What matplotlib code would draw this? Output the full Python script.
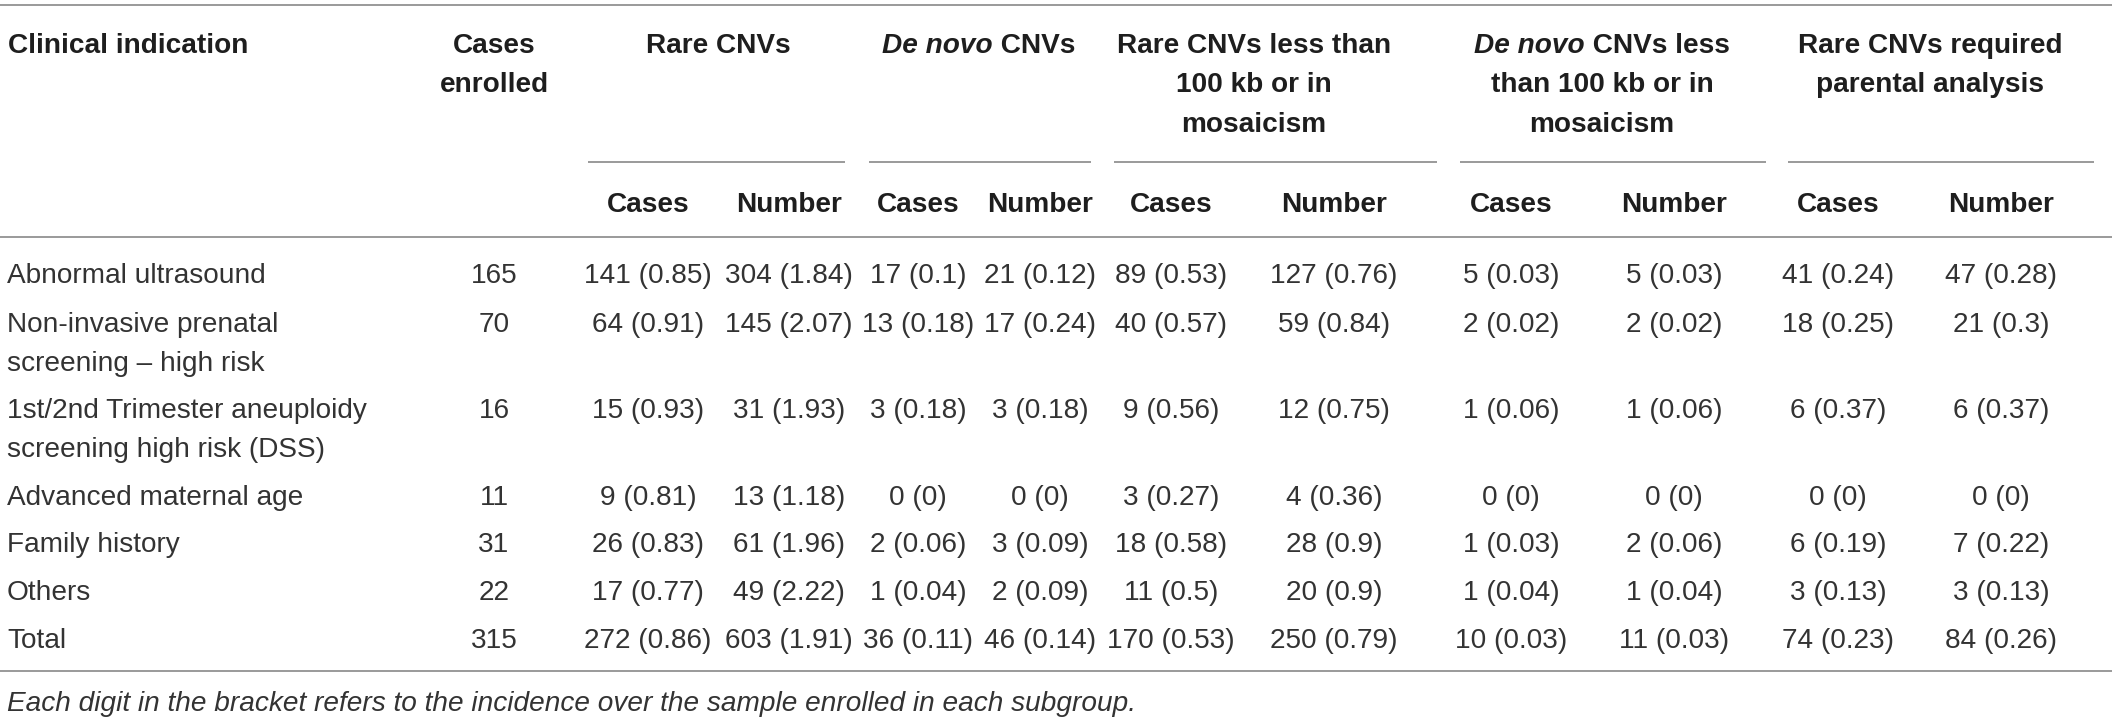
import matplotlib
matplotlib.use("Agg")
import matplotlib.pyplot as plt

# ---------------- data ----------------
indications = ["Abnormal ultrasound",
               "Non-invasive prenatal\nscreening \u2013 high risk",
               "1st/2nd Trimester aneuploidy\nscreening high risk (DSS)",
               "Advanced maternal age",
               "Family history",
               "Others",
               "Total"]
cases_enrolled = [165, 70, 16, 11, 31, 22, 315]

rare_cases = [141, 64, 15, 9, 26, 17, 272]
rare_cases_inc = [0.85, 0.91, 0.93, 0.81, 0.83, 0.77, 0.86]
rare_number = [304, 145, 31, 13, 61, 49, 603]
rare_number_inc = [1.84, 2.07, 1.93, 1.18, 1.96, 2.22, 1.91]

dn_cases = [17, 13, 3, 0, 2, 1, 36]
dn_cases_inc = [0.1, 0.18, 0.18, 0, 0.06, 0.04, 0.11]
dn_number = [21, 17, 3, 0, 3, 2, 46]
dn_number_inc = [0.12, 0.24, 0.18, 0, 0.09, 0.09, 0.14]

r100_cases = [89, 40, 9, 3, 18, 11, 170]
r100_cases_inc = [0.53, 0.57, 0.56, 0.27, 0.58, 0.5, 0.53]
r100_number = [127, 59, 12, 4, 28, 20, 250]
r100_number_inc = [0.76, 0.84, 0.75, 0.36, 0.9, 0.9, 0.79]

dn100_cases = [5, 2, 1, 0, 1, 1, 10]
dn100_cases_inc = [0.03, 0.02, 0.06, 0, 0.03, 0.04, 0.03]
dn100_number = [5, 2, 1, 0, 2, 1, 11]
dn100_number_inc = [0.03, 0.02, 0.06, 0, 0.06, 0.04, 0.03]

par_cases = [41, 18, 6, 0, 6, 3, 74]
par_cases_inc = [0.24, 0.25, 0.37, 0, 0.19, 0.13, 0.23]
par_number = [47, 21, 6, 0, 7, 3, 84]
par_number_inc = [0.28, 0.3, 0.37, 0, 0.22, 0.13, 0.26]

header_first = "Clinical indication"
header_enrolled = ["Cases", "enrolled"]
group_headers = [
    [[("Rare CNVs", "normal")]],
    [[("De novo", "italic"), (" CNVs", "normal")]],
    [[("Rare CNVs less than", "normal")], [("100 kb or in", "normal")], [("mosaicism", "normal")]],
    [[("De novo", "italic"), (" CNVs less", "normal")], [("than 100 kb or in", "normal")], [("mosaicism", "normal")]],
    [[("Rare CNVs required", "normal")], [("parental analysis", "normal")]],
]
sub_labels = ["Cases", "Number"] * 5
footnote = "Each digit in the bracket refers to the incidence over the sample enrolled in each subgroup."

# ---------------- layout ----------------
W, H, DPI = 2118, 720, 100
plt.rcParams['font.family'] = ["Liberation Sans", "DejaVu Sans"]

TXT = "#333333"
HTXT = "#1e1e1e"
LINE = "#9a9a9a"
FS = 20.2
CAP = 10  # half cap height in px -> baseline offset from visual centre

fig = plt.figure(figsize=(W / DPI, H / DPI), dpi=DPI)
ax = fig.add_axes([0, 0, 1, 1])
ax.set_xlim(0, W)
ax.set_ylim(H, 0)
ax.axis("off")

col_x = [648, 789, 918, 1040, 1171, 1334, 1511, 1674, 1838, 2001]
enrolled_x = 494
group_centers = [718, 979, 1254, 1602, 1930]
group_spans = [(588, 845), (869, 1091), (1114, 1437), (1460, 1766), (1788, 2094)]
row_y = [273, 322, 408, 495, 542, 590, 638]
line_gap = 39
header_y = [43, 82, 122]
sub_y = 202

fig.canvas.draw()
renderer = fig.canvas.get_renderer()


def seg_text(xc, y, segments):
    """Draw one bold header line made of (text, style) segments, centred on xc."""
    arts = [ax.text(0, y + CAP, s, fontsize=FS, fontweight="bold", fontstyle=st,
                    color=HTXT, ha="left", va="baseline") for s, st in segments]
    widths = [t.get_window_extent(renderer=renderer).width for t in arts]
    x = xc - sum(widths) / 2
    for t, w in zip(arts, widths):
        t.set_x(x)
        x += w


def hline(x0, x1, y):
    ax.plot([x0, x1], [y, y], color=LINE, lw=1.4, solid_capstyle="butt")


# horizontal rules
hline(0, 2112, 5)
hline(0, 2112, 237)
hline(0, 2112, 671)
for a, b in group_spans:
    hline(a, b, 162)

# header
ax.text(8, header_y[0] + CAP, header_first, fontsize=FS, fontweight="bold",
        color=HTXT, ha="left", va="baseline")
for k, s in enumerate(header_enrolled):
    seg_text(enrolled_x, header_y[k], [(s, "normal")])
for xc, lines in zip(group_centers, group_headers):
    for k, segs in enumerate(lines):
        seg_text(xc, header_y[k], segs)
for x, lab in zip(col_x, sub_labels):
    seg_text(x, sub_y, [(lab, "normal")])

# body
columns = [(rare_cases, rare_cases_inc), (rare_number, rare_number_inc),
           (dn_cases, dn_cases_inc), (dn_number, dn_number_inc),
           (r100_cases, r100_cases_inc), (r100_number, r100_number_inc),
           (dn100_cases, dn100_cases_inc), (dn100_number, dn100_number_inc),
           (par_cases, par_cases_inc), (par_number, par_number_inc)]

for i, y in enumerate(row_y):
    for k, part in enumerate(indications[i].split("\n")):
        ax.text(7, y + k * line_gap + CAP, part, fontsize=FS, color=TXT,
                ha="left", va="baseline")
    ax.text(enrolled_x, y + CAP, str(cases_enrolled[i]), fontsize=FS, color=TXT,
            ha="center", va="baseline")
    for x, (cnt, inc) in zip(col_x, columns):
        ax.text(x, y + CAP, f"{cnt[i]} ({inc[i]:g})", fontsize=FS, color=TXT,
                ha="center", va="baseline")

ax.text(7, 701 + CAP, footnote, fontsize=FS, fontstyle="italic", color=TXT,
        ha="left", va="baseline")

fig.savefig("out.png", dpi=DPI)
